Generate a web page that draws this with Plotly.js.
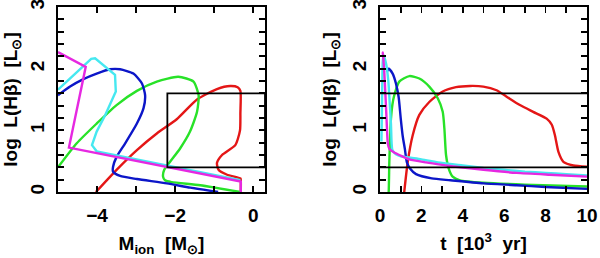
<!DOCTYPE html>
<html>
<head>
<meta charset="utf-8">
<script src="https://cdn.plot.ly/plotly-3.0.1.min.js"></script>
<style>html,body{margin:0;padding:0;background:#fff;}#chart{width:600px;height:258px;}</style>
</head>
<body>
<div id="chart"></div>
<script>
// ---- Left panel: log L(Hbeta) vs M_ion ----
const redMion   = [-4.03,-3.50,-2.98,-2.47,-1.96,-1.44,-0.93,-0.59,-0.40,-0.33,-0.33,-0.34,-0.46,-0.80,-0.93,-0.89,-0.67,-0.33,-0.32,-0.32];
const redLogL   = [0.00,0.36,0.68,0.95,1.18,1.50,1.67,1.72,1.70,1.64,1.28,1.00,0.76,0.60,0.47,0.36,0.28,0.22,0.19,0.00];
const greenMion = [-5.00,-4.52,-4.01,-3.50,-2.98,-2.47,-1.92,-1.53,-1.40,-1.44,-1.62,-1.87,-2.13,-2.28,-2.31,-2.26,-2.09,-1.36,-0.33];
const greenLogL = [0.40,0.79,1.11,1.41,1.64,1.79,1.87,1.79,1.57,1.30,0.98,0.71,0.49,0.36,0.25,0.19,0.16,0.11,0.00];
const blueMion  = [-5.00,-4.69,-4.35,-4.01,-3.67,-3.41,-3.07,-2.85,-2.77,-2.81,-2.98,-3.28,-3.50,-3.59,-3.59,-3.41,-2.98,-2.21,-1.61,-0.90];
const blueLogL  = [1.57,1.71,1.83,1.92,1.99,1.99,1.92,1.76,1.57,1.36,1.11,0.79,0.57,0.41,0.33,0.26,0.21,0.14,0.07,0.00];
const cyanMion  = [-5.00,-4.56,-4.15,-4.05,-3.71,-3.54,-3.52,-3.79,-4.01,-4.13,-4.01,-2.51,-0.33];
const cyanLogL  = [1.66,1.92,2.16,2.17,1.98,1.90,1.63,1.25,0.98,0.76,0.66,0.47,0.19];
const magMion   = [-5.00,-4.29,-4.72,-2.51,-0.32,-0.32];
const magLogL   = [2.27,2.03,0.72,0.44,0.17,0.00];

// ---- Right panel: log L(Hbeta) vs t [10^3 yr] ----
const redT    = [1.15,1.17,1.34,1.58,1.90,2.38,3.03,3.67,4.35,4.99,5.63,6.10,6.76,7.40,8.05,8.30,8.45,8.62,8.86,9.34,10.0];
const redL    = [-0.05,0.00,0.49,0.92,1.25,1.46,1.63,1.70,1.72,1.71,1.65,1.55,1.41,1.30,1.19,1.09,0.92,0.65,0.49,0.43,0.41];
const greenT  = [0.40,0.42,0.45,0.50,0.53,0.60,0.69,0.93,1.42,1.90,2.38,2.79,3.03,3.11,3.19,3.32,3.51,3.86,5.0,7.0,10.0];
const greenL  = [-0.05,0.00,0.49,1.00,1.19,1.42,1.57,1.79,1.88,1.84,1.71,1.52,1.30,1.03,0.60,0.38,0.25,0.19,0.15,0.12,0.09];
const blueT   = [0.33,0.42,0.61,0.77,0.90,1.00,1.10,1.20,1.30,1.45,1.74,2.50,3.40,5.0,6.6,8.0,10.0];
const blueL   = [1.95,2.00,1.92,1.76,1.54,1.20,0.90,0.70,0.48,0.38,0.29,0.22,0.19,0.14,0.11,0.08,0.05];
const cyanT   = [0.07,0.10,0.13,0.17,0.29,0.40,0.48,0.53,0.56,0.60,0.77,1.0,2.0,3.0,4.0,5.0,6.0,7.0,8.0,9.0,10.0];
const cyanL   = [0.82,1.50,2.10,2.22,2.09,1.81,1.38,1.10,0.80,0.68,0.61,0.58,0.53,0.47,0.43,0.39,0.36,0.33,0.31,0.29,0.27];
const magT    = [0.10,0.13,0.21,0.29,0.34,0.38,0.45,0.69,1.0,1.42,2.22,3.0,3.67,5.0,6.6,8.2,10.0];
const magL    = [2.27,2.26,1.92,1.38,1.00,0.78,0.70,0.64,0.59,0.53,0.48,0.44,0.41,0.36,0.31,0.28,0.25];

// observational limits
const boxMion = [-2.2, 0.3];
const limLogL = [0.4, 1.6];

// tick labels
const xTicks1 = [-4, -2, 0];
const xTicks2 = [0, 2, 4, 6, 8, 10];
const yTicks  = [0, 1, 2, 3];

const C = {red:'rgb(228,22,22)', green:'rgb(40,226,40)', blue:'rgb(12,22,200)', cyan:'rgb(70,232,240)', mag:'rgb(230,40,225)'};
function tr(x, y, col, xa, shape) {
  return {x:x, y:y, xaxis:xa, yaxis:xa==='x'?'y':'y2', type:'scatter', mode:'lines',
          line:{color:col, width:2.4, shape:shape||'spline', smoothing:0.6}, hoverinfo:'skip', showlegend:false};
}
const data = [
  tr(redMion, redLogL, C.red, 'x'),
  tr(greenMion, greenLogL, C.green, 'x'),
  tr(blueMion, blueLogL, C.blue, 'x'),
  tr(cyanMion, cyanLogL, C.cyan, 'x', 'linear'),
  tr(magMion, magLogL, C.mag, 'x', 'linear'),
  tr(redT, redL, C.red, 'x2'),
  tr(greenT, greenL, C.green, 'x2'),
  tr(blueT, blueL, C.blue, 'x2'),
  tr(cyanT, cyanL, C.cyan, 'x2'),
  tr(magT, magL, C.mag, 'x2')
];

const FONT = {family:'"Liberation Sans", Arial, sans-serif', size:19, color:'#000', weight:'bold'};
function axisCommon() {
  return {showline:true, linecolor:'#000', linewidth:2, mirror:'allticks', ticks:'inside', ticklen:6, tickwidth:1.8,
          tickcolor:'#000', showgrid:false, zeroline:false, automargin:false, tickfont:FONT, fixedrange:true,
          ticklabeloverflow:'allow'};
}
const xa1 = Object.assign(axisCommon(), {domain:[58/600, 265/600], range:[-5, 0.3], tickvals:xTicks1, ticktext:xTicks1.map(v=>v<0?'\u2212'+Math.abs(v):String(v)),
  minor:{dtick:1, tick0:0, ticks:'inside', ticklen:6, tickwidth:1.8, tickcolor:'#000'}, ticklabelstandoff:5,
  title:{text:'M<sub>ion</sub>\u00a0 [M<sub>\u2299</sub>]', font:FONT, standoff:12}, anchor:'y'});
const xa2 = Object.assign(axisCommon(), {domain:[380/600, 587/600], range:[0, 10], tickvals:xTicks2,
  minor:{dtick:1, tick0:0, ticks:'inside', ticklen:6, tickwidth:1.8, tickcolor:'#000'}, ticklabelstandoff:5,
  title:{text:'t\u00a0 [10<sup>3</sup>\u00a0 yr]', font:FONT, standoff:12}, anchor:'y2'});
function ya(anchor) {
  return Object.assign(axisCommon(), {domain:[1-192/258, 1-7/258], range:[0, 3.0005], tickvals:yTicks, tickangle:-90,
    minor:{dtick:0.2, tick0:0, ticks:'inside', ticklen:6, tickwidth:1.8, tickcolor:'#000'}, ticklabelstandoff:4,
    title:{text:'log\u00a0 L(H\u03b2)\u00a0 [L<sub>\u2299</sub>]', font:FONT, standoff:8}, anchor:anchor});
}
const shapes = [
  {type:'rect', xref:'x', yref:'y', x0:boxMion[0], x1:boxMion[1], y0:limLogL[0], y1:limLogL[1], line:{color:'#000', width:1.8}, layer:'above'},
  {type:'line', xref:'x2 domain', yref:'y2', x0:0, x1:1, y0:limLogL[0], y1:limLogL[0], line:{color:'#000', width:1.8}, layer:'above'},
  {type:'line', xref:'x2 domain', yref:'y2', x0:0, x1:1, y0:limLogL[1], y1:limLogL[1], line:{color:'#000', width:1.8}, layer:'above'}
];
const layout = {
  width:600, height:258, margin:{l:0, r:0, t:0, b:0}, paper_bgcolor:'#fff', plot_bgcolor:'#fff',
  font:FONT, showlegend:false,
  xaxis:xa1, yaxis:ya('x'), xaxis2:xa2, yaxis2:ya('x2'), shapes:shapes
};
Plotly.newPlot('chart', data, layout, {staticPlot:true, displayModeBar:false});
</script>
</body>
</html>
